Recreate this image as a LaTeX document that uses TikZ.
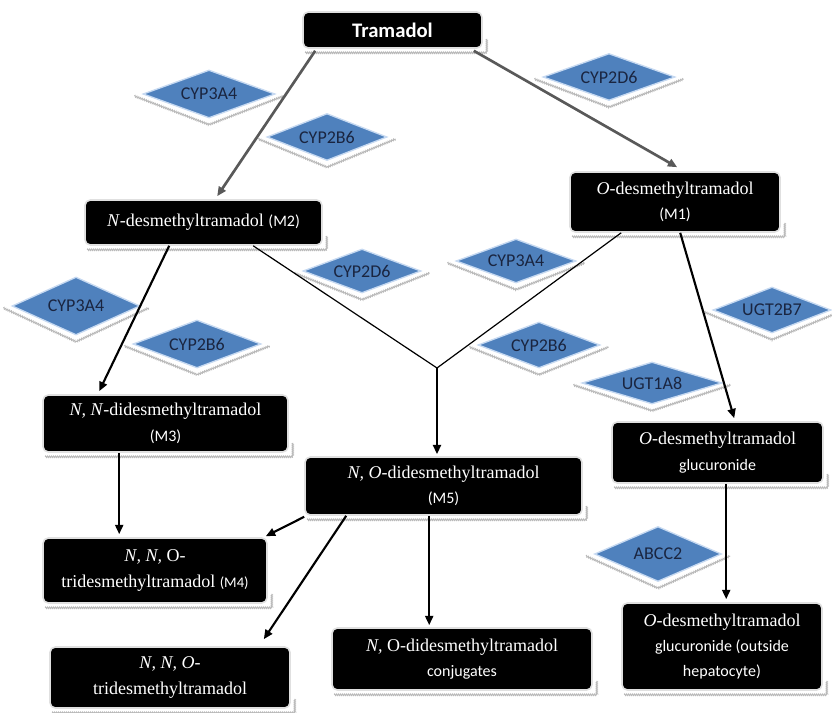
\documentclass[tikz,border=0pt]{standalone}
\usepackage{fontspec}
\setmainfont{Liberation Serif}
\newfontfamily\calib{Carlito}
\usetikzlibrary{shapes.geometric,arrows.meta,decorations.pathmorphing}
\definecolor{enzfill}{HTML}{4F81BD}
\definecolor{enzedge}{HTML}{C6D9F1}
\definecolor{enztext}{HTML}{1A2540}
\definecolor{arrgray}{HTML}{595959}
\newcommand\sanslbl[1]{{\calib\fontsize{12}{19}\selectfont #1}}
\begin{document}
\begin{tikzpicture}[x=0.75pt,y=-0.75pt,
  cbox/.style 2 args={rectangle, rounded corners=4pt, fill=black, draw=black!12, line width=1.2pt,
    text=white, align=center, inner sep=2pt, minimum width=#1*0.75pt, minimum height=#2*0.75pt,
    font=\fontsize{13.5}{19}\selectfont},
  enz/.style 2 args={diamond, fill=enzfill, draw=enzedge, line width=1pt, inner sep=0pt, aspect=2.6,
    minimum width=#1*0.75pt, minimum height=#2*0.75pt, text=enztext,
    font=\calib\fontsize{13.5}{15}\selectfont},
  shadowline/.style={draw=gray!55, line width=0.7pt, decorate,
    decoration={zigzag, amplitude=0.6pt, segment length=1.5pt}},
  garr/.style={draw=arrgray, line width=2pt, -{Triangle[length=7pt,width=6pt]}},
  barr/.style={draw=black, line width=1.6pt, -{Triangle[length=7pt,width=6pt]}},
  thinline/.style={draw=black, line width=0.9pt}]
\useasboundingbox (0,0) rectangle (832,713);

% enzyme diamonds
\node[enz={132}{48}] (d1) at (209,94) {CYP3A4};
\node[enz={120}{47}] (d2) at (327,137) {CYP2B6};
\node[enz={132}{47}] (d3) at (609,77) {CYP2D6};
\node[enz={118}{44}] (d4) at (362,271) {CYP2D6};
\node[enz={120}{44}] (d5) at (516,261) {CYP3A4};
\node[enz={128}{58}] (d6) at (76,306) {CYP3A4};
\node[enz={128}{48}] (d7) at (197,344) {CYP2B6};
\node[enz={122}{46}] (d8) at (539,345) {CYP2B6};
\node[enz={140}{42}] (d9) at (652,383) {UGT1A8};
\node[enz={118}{46}] (d10) at (772,310) {UGT2B7};
\node[enz={127}{55}] (d11) at (658,554) {ABCC2};
\foreach \n in {d1,d2,d3,d4,d5,d6,d7,d8,d9,d10,d11}{
  \draw[shadowline] ([shift={(-8,2)}]\n.west) -- ([shift={(0,6)}]\n.south) -- ([shift={(8,2)}]\n.east);
}

% metabolite boxes
\node[cbox={179}{36}, font=\calib\bfseries\fontsize{15.5}{18}\selectfont] (tram) at (392.5,30) {Tramadol};
\node[cbox={237}{45}] (m2) at (203.5,222.5) {\textit{N}-desmethyltramadol \sanslbl{(M2)}};
\node[cbox={210}{60}] (m1) at (675,202) {\textit{O}-desmethyltramadol\\ \sanslbl{(M1)}};
\node[cbox={245}{57}] (m3) at (165.5,423.5) {\textit{N, N}-didesmethyltramadol\\ \sanslbl{(M3)}};
\node[cbox={277}{58}] (m5) at (443.5,486) {\textit{N, O}-didesmethyltramadol\\ \sanslbl{(M5)}};
\node[cbox={211}{61}] (gluc) at (717.5,452.5) {\textit{O}-desmethyltramadol\\ \sanslbl{glucuronide}};
\node[cbox={224}{65}] (m4) at (155,570.5) {\textit{N, N,} O-\\ tridesmethyltramadol {\calib\fontsize{11}{19}\selectfont(M4)}};
\node[cbox={240}{61}] (tri) at (170,677.5) {\textit{N, N, O}-\\ tridesmethyltramadol};
\node[cbox={260}{62}] (conj) at (462,659) {\textit{N,} O-didesmethyltramadol\\ \sanslbl{conjugates}};
\node[cbox={200}{87}] (out) at (722,646.5) {\textit{O}-desmethyltramadol\\ \sanslbl{glucuronide (outside}\\ \sanslbl{hepatocyte)}};
\foreach \n in {tram,m2,m1,m3,m5,gluc,m4,tri,conj,out}{
  \draw[shadowline] ([shift={(3,4)}]\n.south west) -- ([shift={(4,4)}]\n.south east) -- ([shift={(4,-10)}]\n.south east);
}

% connectors
\coordinate (J) at (437,368);
\draw[garr] ([shift={(13,2)}]tram.south west) -- ([shift={(133,-3)}]m2.north west);
\draw[garr] ([shift={(-9,2)}]tram.south east) -- ([shift={(108,-4)}]m1.north west);
\draw[barr] ([shift={(85,0)}]m2.south west) -- ([shift={(57,-3)}]m3.north west);
\draw[thinline] ([shift={(169,0)}]m2.south west) -- (J);
\draw[thinline] ([shift={(52,0)}]m1.south west) -- (J);
\draw[barr] (J) -- ([shift={(0,-2)}]J |- m5.north);
\draw[barr] ([shift={(111,0)}]m1.south west) -- ([shift={(123,-3)}]gluc.north west);
\draw[barr] ([shift={(77,0)}]m3.south west) coordinate (a8) -- ([shift={(0,-3)}]a8 |- m4.north);
\draw[barr] ([shift={(0,1)}]m5.south west) -- ([shift={(-2,-1)}]m4.north east);
\draw[barr] ([shift={(42,0)}]m5.south west) -- ([shift={(-27,-7)}]tri.north east);
\draw[barr] ([shift={(125,0)}]m5.south west) coordinate (a11) -- ([shift={(0,-2)}]a11 |- conj.north);
\draw[barr] ([shift={(115,0)}]gluc.south west) coordinate (a12) -- ([shift={(0,-3)}]a12 |- out.north);
\end{tikzpicture}
\end{document}
